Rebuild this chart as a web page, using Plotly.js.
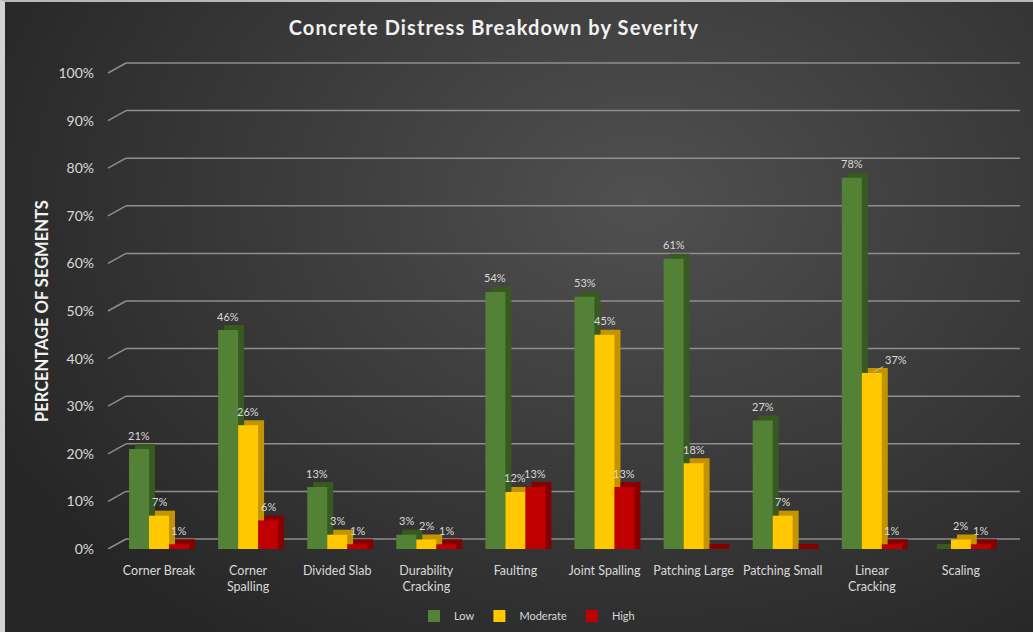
<!DOCTYPE html>
<html>
<head>
<meta charset="utf-8">
<script src="https://cdn.plot.ly/plotly-3.0.1.min.js"></script>
<style>
  html, body { margin: 0; padding: 0; }
  body {
    width: 1033px; height: 632px; overflow: hidden; position: relative;
    background: radial-gradient(ellipse 70% 85% at 62% 32%, #505050 0%, #3d3d3d 45%, #262626 100%);
  }
  #frame {
    position: absolute; left: 0; top: 0; width: 1033px; height: 632px;
    box-sizing: border-box; border-left: 5px solid #d2d2d2; border-top: 2px solid #b8b8b8;
  }
  #chart { position: absolute; left: 0; top: 0; width: 1033px; height: 632px; }
  #chart .gtitle { letter-spacing: 1.1px; }
  #chart .annotation.axis-label text { letter-spacing: 0.3px; }
</style>
</head>
<body>
<div id="frame"></div>
<div id="chart"></div>
<script>
// Share of segments showing each concrete distress, split by severity (%)
const categories = ['Corner Break', 'Corner Spalling', 'Divided Slab', 'Durability Cracking', 'Faulting',
                    'Joint Spalling', 'Patching Large', 'Patching Small', 'Linear Cracking', 'Scaling'];
const categoryLabels = ['Corner Break', 'Corner<br>Spalling', 'Divided Slab', 'Durability<br>Cracking', 'Faulting',
                        'Joint Spalling', 'Patching Large', 'Patching Small', 'Linear<br>Cracking', 'Scaling'];
const lowPct      = [21, 46, 13, 3, 54, 53, 61, 27, 78, 0];
const moderatePct = [7, 26, 3, 2, 12, 45, 18, 7, 37, 2];
const highPct     = [1, 6, 1, 1, 13, 13, 0, 0, 1, 1];
const severityNames = ['Low', 'Moderate', 'High'];
const yTickValues = [0, 10, 20, 30, 40, 50, 60, 70, 80, 90, 100];
// labels drawn beside the bar with a leader line instead of above it
const calloutLabels = [{ series: 1, category: 'Linear Cracking' }];

// Styling
const frontColors = ['#538135', '#FFC800', '#C00000'];
const sideColors  = ['#385a20', '#c29400', '#860000'];
const FONT = 'Lato, "Open Sans", "Liberation Sans", sans-serif';
const LABEL_COLOR = '#d9d9d9';
const GRID_COLOR = '#8e8e8e';

// Geometry (px) of the plotting area and the fake 3-D extrusion
const FIG_W = 1033, FIG_H = 632;
const PLOT_L = 115, PLOT_R = 1020, PLOT_T = 55, PLOT_B = 549;
const CAT_STEP = 89.1, FIRST_CAT_PX = 159, PX_PER_PCT = 4.76;
const BARGAP = 0.327;
const DEPTH_X = 6, DEPTH_Y = 5;     // bar extrusion
const WALL_X = 18, WALL_Y = 10;     // back wall offset for gridlines

const plotW = PLOT_R - PLOT_L, plotH = PLOT_B - PLOT_T;
const xr0 = -(FIRST_CAT_PX - PLOT_L) / CAT_STEP;
const xr1 = xr0 + plotW / CAT_STEP;
const yTop = plotH / PX_PER_PCT;
const depthShiftX = DEPTH_X / CAT_STEP;
const depthLift = DEPTH_Y / PX_PER_PCT;
const barWidthPx = CAT_STEP * (1 - BARGAP) / 3;

const seriesValues = [lowPct, moderatePct, highPct];

const traces = [];
// Extruded side/top faces, drawn first on the shifted base axes
seriesValues.forEach((vals, k) => {
  traces.push({
    type: 'bar', x: categories, y: vals.map(v => v + depthLift),
    xaxis: 'x', yaxis: 'y', name: severityNames[k], showlegend: false, hoverinfo: 'skip',
    marker: { color: sideColors[k], line: { width: 0 } }
  });
});
// Front faces
seriesValues.forEach((vals, k) => {
  traces.push({
    type: 'bar', x: categories, y: vals, xaxis: 'x2', yaxis: 'y2', name: severityNames[k],
    marker: { color: frontColors[k], line: { width: 0 } }
  });
});

// Value labels
const annotations = [];
seriesValues.forEach((vals, k) => {
  vals.forEach((v, i) => {
    if (v <= 0) return;
    const isCallout = calloutLabels.some(c => c.series === k && c.category === categories[i]);
    const base = {
      x: categories[i], y: v, xref: 'x2', yref: 'y2', text: v + '%',
      font: { family: FONT, size: 11, color: LABEL_COLOR }
    };
    if (isCallout) {
      annotations.push(Object.assign(base, {
        xshift: (k - 1) * barWidthPx, showarrow: true, arrowhead: 0, arrowwidth: 1,
        arrowcolor: '#bfbfbf', ax: 24, ay: -13, standoff: 2
      }));
    } else {
      annotations.push(Object.assign(base, {
        xshift: (k - 1) * barWidthPx, yshift: 14, yanchor: 'middle', showarrow: false
      }));
    }
  });
});

// Axis title, centred on the 0-100 % span
annotations.push({
  text: '<b>PERCENTAGE OF SEGMENTS</b>', textangle: -90,
  xref: 'paper', yref: 'y2', x: (42 - PLOT_L) / plotW, y: 50,
  xanchor: 'center', yanchor: 'middle', showarrow: false,
  font: { family: FONT, size: 16.5, color: '#f2f2f2' }
});

// Gridlines on the back wall, with the slanted floor-to-wall segment at the left
const wallStart = (FIRST_CAT_PX - PLOT_L - 33) / plotW;
const shapes = [];
yTickValues.forEach(v => {
  shapes.push({
    type: 'line', layer: 'below', xref: 'paper', yref: 'y2', ysizemode: 'pixel', yanchor: v,
    x0: wallStart, x1: 1, y0: WALL_Y, y1: WALL_Y,
    line: { color: GRID_COLOR, width: 1.5 }
  });
  shapes.push({
    type: 'line', layer: 'below', xref: 'paper', yref: 'y2',
    xsizemode: 'pixel', xanchor: wallStart, ysizemode: 'pixel', yanchor: v,
    x0: -WALL_X, x1: 0, y0: 0, y1: WALL_Y,
    line: { color: GRID_COLOR, width: 1.5 }
  });
});

const layout = {
  width: FIG_W, height: FIG_H,
  paper_bgcolor: 'rgba(0,0,0,0)', plot_bgcolor: 'rgba(0,0,0,0)',
  margin: { l: PLOT_L, r: FIG_W - PLOT_R, t: PLOT_T, b: FIG_H - PLOT_B, autoexpand: false },
  barmode: 'group', bargap: BARGAP, bargroupgap: 0,
  font: { family: FONT, color: LABEL_COLOR },
  title: {
    text: '<b>Concrete Distress Breakdown by Severity</b>',
    font: { family: FONT, size: 20, color: '#f2f2f2' },
    x: 494 / FIG_W, xref: 'container', xanchor: 'center',
    y: 1 - 28 / FIG_H, yref: 'container', yanchor: 'middle'
  },
  xaxis: {
    type: 'category', range: [xr0 - depthShiftX, xr1 - depthShiftX],
    showgrid: false, zeroline: false, showline: false, showticklabels: false, ticks: '', fixedrange: true
  },
  yaxis: {
    range: [0, yTop], showgrid: false, zeroline: false, showline: false, showticklabels: false,
    ticks: '', fixedrange: true
  },
  xaxis2: {
    type: 'category', overlaying: 'x', anchor: 'y2', range: [xr0, xr1],
    tickvals: categories, ticktext: categoryLabels,
    tickfont: { family: FONT, size: 12.5, color: LABEL_COLOR },
    ticks: '', ticklabelstandoff: 12,
    showgrid: false, zeroline: false, showline: false, fixedrange: true
  },
  yaxis2: {
    overlaying: 'y', anchor: 'x2', range: [0, yTop],
    tickvals: yTickValues, ticktext: yTickValues.map(v => v + '%'),
    tickfont: { family: FONT, size: 14, color: LABEL_COLOR },
    ticks: '', ticklabelstandoff: 20,
    showgrid: false, zeroline: false, showline: false, fixedrange: true
  },
  legend: {
    orientation: 'h', x: (527 - PLOT_L) / plotW, xanchor: 'center',
    y: (PLOT_B - 616) / plotH, yanchor: 'middle',
    font: { family: FONT, size: 11, color: LABEL_COLOR }, itemwidth: 30,
    bgcolor: 'rgba(0,0,0,0)', traceorder: 'normal'
  },
  annotations: annotations,
  shapes: shapes,
  showlegend: true
};

Plotly.newPlot('chart', traces, layout, { displayModeBar: false, staticPlot: true });
</script>
</body>
</html>
